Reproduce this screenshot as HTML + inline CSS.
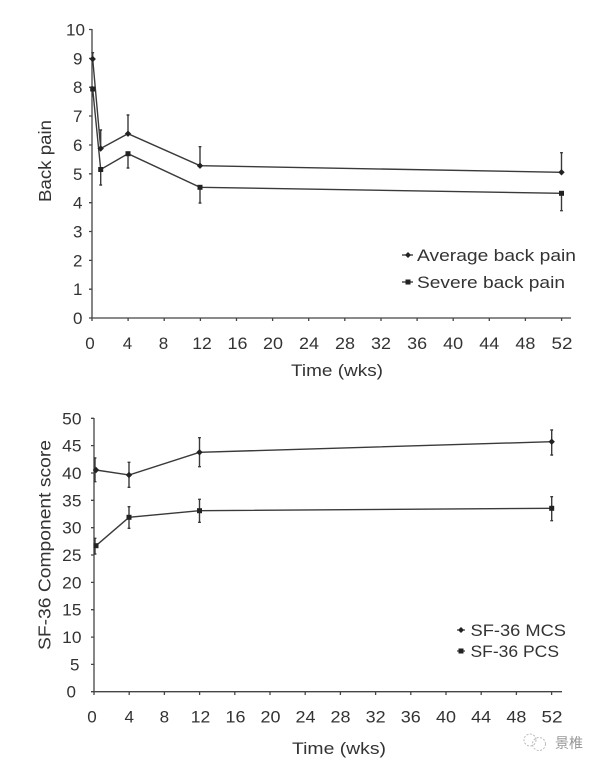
<!DOCTYPE html>
<html><head><meta charset="utf-8"><style>
html,body{margin:0;padding:0;background:#fff;}
svg{display:block;}
text{font-family:"Liberation Sans","Noto Sans CJK SC",sans-serif;fill:#333;}
</style></head><body>
<svg width="603" height="769" viewBox="0 0 603 769" xmlns="http://www.w3.org/2000/svg">
<rect width="603" height="769" fill="#fff"/>
<!-- TOP CHART -->
<g stroke="#444" stroke-width="1.3" fill="none">
<line x1="92" y1="29" x2="92" y2="318"/>
<line x1="92" y1="318" x2="571" y2="318"/>
<path d="M89 29.5H92M89 58.4H92M89 87.2H92M89 116H92M89 145H92M89 173.8H92M89 202.7H92M89 231.5H92M89 260.4H92M89 289.2H92M89 318H92"/>
<path d="M92 318V321M128.1 318V321M164.2 318V321M200.4 318V321M236.5 318V321M272.6 318V321M308.7 318V321M344.8 318V321M381 318V321M417.1 318V321M453.2 318V321M489.3 318V321M525.4 318V321M561.6 318V321"/>
</g>
<g font-size="17" text-anchor="end">
<text x="85" y="35.5" textLength="19" lengthAdjust="spacingAndGlyphs">10</text>
<text x="82.5" y="64.4">9</text>
<text x="82.5" y="93.2">8</text>
<text x="82.5" y="122">7</text>
<text x="82.5" y="151">6</text>
<text x="82.5" y="179.8">5</text>
<text x="82.5" y="208.7">4</text>
<text x="82.5" y="237.5">3</text>
<text x="82.5" y="266.4">2</text>
<text x="82.5" y="295.2">1</text>
<text x="82.5" y="324">0</text>
</g>
<g font-size="17" text-anchor="middle">
<text x="90" y="349">0</text>
<text x="127.5" y="349">4</text>
<text x="163.5" y="349">8</text>
<text x="202" y="349" textLength="19.5" lengthAdjust="spacingAndGlyphs">12</text>
<text x="237.5" y="349" textLength="20" lengthAdjust="spacingAndGlyphs">16</text>
<text x="273" y="349" textLength="20" lengthAdjust="spacingAndGlyphs">20</text>
<text x="309" y="349" textLength="20" lengthAdjust="spacingAndGlyphs">24</text>
<text x="345" y="349" textLength="20" lengthAdjust="spacingAndGlyphs">28</text>
<text x="381" y="349" textLength="20" lengthAdjust="spacingAndGlyphs">32</text>
<text x="417.1" y="349" textLength="20" lengthAdjust="spacingAndGlyphs">36</text>
<text x="453.2" y="349" textLength="20" lengthAdjust="spacingAndGlyphs">40</text>
<text x="489.3" y="349" textLength="20" lengthAdjust="spacingAndGlyphs">44</text>
<text x="525.4" y="349" textLength="20" lengthAdjust="spacingAndGlyphs">48</text>
<text x="562" y="349" textLength="21" lengthAdjust="spacingAndGlyphs">52</text>
</g>
<text x="291" y="376" font-size="17" textLength="92" lengthAdjust="spacingAndGlyphs">Time (wks)</text>
<text transform="translate(51,202) rotate(-90)" font-size="17.5" textLength="82" lengthAdjust="spacingAndGlyphs">Back pain</text>
<g stroke="#3a3a3a" stroke-width="1.4" fill="none">
<polyline points="92.7,59 100.7,148.5 128,133.7 200,165.7 561.5,172.3"/>
<polyline points="92.7,89 100.7,169.5 128,153.7 200,187.3 561.5,193.3"/>
<path d="M92.7 59V52.7M91.3 52.7H94.1M100.7 148.5V130M99.3 130H102.1M128 133.7V115M126.6 115H129.4M200 165.7V146.7M198.6 146.7H201.4M561.5 172.3V152.7M560.1 152.7H562.9"/>
<path d="M92.2 86V96.7M100.7 169.5V185M99.3 185H102.1M128 153.7V168M126.6 168H129.4M200 187.3V203M198.6 203H201.4M561.5 193.3V210.7M560.1 210.7H562.9"/>
</g>
<g fill="#222">
<path d="M92.7 55.8L95.9 59L92.7 62.2L89.5 59Z"/>
<path d="M100.7 145.3L103.9 148.5L100.7 151.7L97.5 148.5Z"/>
<path d="M128 130.5L131.2 133.7L128 136.9L124.8 133.7Z"/>
<path d="M200 162.5L203.2 165.7L200 168.9L196.8 165.7Z"/>
<path d="M561.5 169.1L564.7 172.3L561.5 175.5L558.3 172.3Z"/>
<rect x="90.2" y="86.5" width="5" height="5"/>
<rect x="98.2" y="167" width="5" height="5"/>
<rect x="125.5" y="151.2" width="5" height="5"/>
<rect x="197.5" y="184.8" width="5" height="5"/>
<rect x="559" y="190.8" width="5" height="5"/>
</g>
<g stroke="#333" stroke-width="1.3"><line x1="402" y1="255" x2="413" y2="255"/><line x1="402" y1="282" x2="413" y2="282"/></g>
<path d="M408 252L411 255L408 258L405 255Z" fill="#222"/>
<rect x="405.5" y="279.5" width="5" height="5" fill="#222"/>
<text x="417" y="261" font-size="17" textLength="159" lengthAdjust="spacingAndGlyphs">Average back pain</text>
<text x="417" y="288" font-size="17" textLength="148" lengthAdjust="spacingAndGlyphs">Severe back pain</text>

<!-- BOTTOM CHART -->
<g stroke="#444" stroke-width="1.3" fill="none">
<line x1="94" y1="418" x2="94" y2="692"/>
<line x1="94" y1="691.7" x2="562" y2="691.7"/>
<path d="M91 418.3H94M91 445.6H94M91 473H94M91 500.3H94M91 527.7H94M91 555H94M91 582.4H94M91 609.7H94M91 637.1H94M91 664.4H94M91 691.7H94"/>
<path d="M94 691.7V695M129.2 691.7V695M164.4 691.7V695M199.6 691.7V695M234.8 691.7V695M270 691.7V695M305.2 691.7V695M340.4 691.7V695M375.6 691.7V695M410.8 691.7V695M446 691.7V695M481.2 691.7V695M516.4 691.7V695M551.6 691.7V695"/>
</g>
<g font-size="17" text-anchor="end">
<text x="81.5" y="424.3" textLength="19.3" lengthAdjust="spacingAndGlyphs">50</text>
<text x="81.5" y="451.6" textLength="19.3" lengthAdjust="spacingAndGlyphs">45</text>
<text x="81.5" y="479" textLength="19.3" lengthAdjust="spacingAndGlyphs">40</text>
<text x="81.5" y="506.3" textLength="19.3" lengthAdjust="spacingAndGlyphs">35</text>
<text x="81.5" y="533.7" textLength="19.3" lengthAdjust="spacingAndGlyphs">30</text>
<text x="81.5" y="561" textLength="19.3" lengthAdjust="spacingAndGlyphs">25</text>
<text x="81.5" y="588.4" textLength="19.3" lengthAdjust="spacingAndGlyphs">20</text>
<text x="81.5" y="615.7" textLength="19.3" lengthAdjust="spacingAndGlyphs">15</text>
<text x="81.5" y="643.1" textLength="19.3" lengthAdjust="spacingAndGlyphs">10</text>
<text x="79.5" y="670.4">5</text>
<text x="76" y="697.7">0</text>
</g>
<g font-size="17" text-anchor="middle">
<text x="92" y="722.7">0</text>
<text x="129.2" y="722.7">4</text>
<text x="164.4" y="722.7">8</text>
<text x="200.5" y="722.7" textLength="19.5" lengthAdjust="spacingAndGlyphs">12</text>
<text x="235.5" y="722.7" textLength="20" lengthAdjust="spacingAndGlyphs">16</text>
<text x="270.5" y="722.7" textLength="20" lengthAdjust="spacingAndGlyphs">20</text>
<text x="305.5" y="722.7" textLength="20" lengthAdjust="spacingAndGlyphs">24</text>
<text x="340.5" y="722.7" textLength="20" lengthAdjust="spacingAndGlyphs">28</text>
<text x="375.6" y="722.7" textLength="20" lengthAdjust="spacingAndGlyphs">32</text>
<text x="410.8" y="722.7" textLength="20" lengthAdjust="spacingAndGlyphs">36</text>
<text x="446" y="722.7" textLength="20" lengthAdjust="spacingAndGlyphs">40</text>
<text x="481.2" y="722.7" textLength="20" lengthAdjust="spacingAndGlyphs">44</text>
<text x="516.4" y="722.7" textLength="20" lengthAdjust="spacingAndGlyphs">48</text>
<text x="552" y="722.7" textLength="21" lengthAdjust="spacingAndGlyphs">52</text>
</g>
<text x="292" y="754" font-size="17" textLength="94" lengthAdjust="spacingAndGlyphs">Time (wks)</text>
<text transform="translate(50.5,650) rotate(-90)" font-size="17.5" textLength="210" lengthAdjust="spacingAndGlyphs">SF-36 Component score</text>
<g stroke="#3a3a3a" stroke-width="1.4" fill="none">
<polyline points="96,470 129,475 199.5,452.3 551.7,441.7"/>
<polyline points="96,545.7 129,517.3 199.5,510.7 551.7,508.3"/>
<path d="M95 458V481.7M93.6 458H96.4M93.6 481.7H96.4M129 462.3V487.3M127.6 462.3H130.4M127.6 487.3H130.4M199.5 437.7V466.7M198.1 437.7H200.9M198.1 466.7H200.9M551.7 430V455M550.3 430H553.1M550.3 455H553.1"/>
<path d="M95 538.3V554M93.6 538.3H96.4M93.6 554H96.4M129 506.7V528.3M127.6 506.7H130.4M127.6 528.3H130.4M199.5 499.3V522.3M198.1 499.3H200.9M198.1 522.3H200.9M551.7 496.7V520.7M550.3 496.7H553.1M550.3 520.7H553.1"/>
</g>
<g fill="#222">
<path d="M96 466.8L99.2 470L96 473.2L92.8 470Z"/>
<path d="M129 471.8L132.2 475L129 478.2L125.8 475Z"/>
<path d="M199.5 449.1L202.7 452.3L199.5 455.5L196.3 452.3Z"/>
<path d="M551.7 438.5L554.9 441.7L551.7 444.9L548.5 441.7Z"/>
<rect x="93.5" y="543.2" width="5" height="5"/>
<rect x="126.5" y="514.8" width="5" height="5"/>
<rect x="197" y="508.2" width="5" height="5"/>
<rect x="549.2" y="505.8" width="5" height="5"/>
</g>
<g stroke="#333" stroke-width="1.2"><line x1="457" y1="630" x2="465" y2="630"/><line x1="457" y1="651" x2="465" y2="651"/></g>
<path d="M461 627L464 630L461 633L458 630Z" fill="#222"/>
<rect x="458.5" y="648.5" width="5" height="5" fill="#222"/>
<text x="470.5" y="636" font-size="17" textLength="95.5" lengthAdjust="spacingAndGlyphs">SF-36 MCS</text>
<text x="470.5" y="657" font-size="17" textLength="88.5" lengthAdjust="spacingAndGlyphs">SF-36 PCS</text>
<g fill="none" stroke="#bbb" stroke-width="1" stroke-dasharray="2 1.5">
<circle cx="530" cy="740" r="6"/>
<circle cx="539" cy="744" r="6.5"/>
</g>
<text x="555" y="748" font-size="14" style="fill:#999">景椎</text>
</svg>
</body></html>
